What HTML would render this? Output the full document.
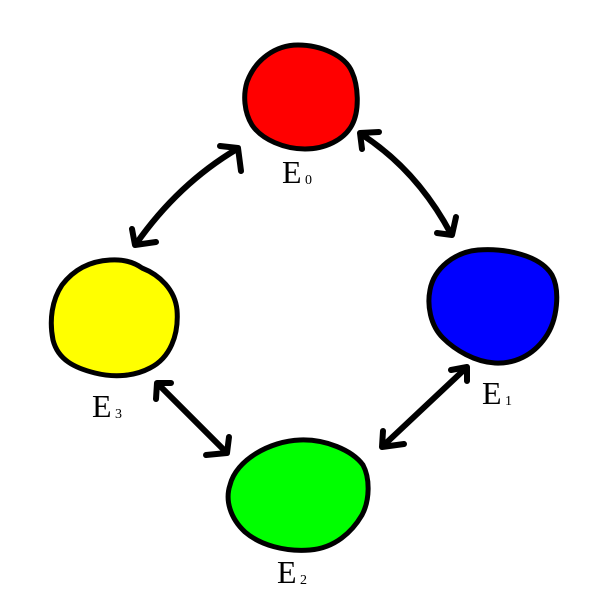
<!DOCTYPE html>
<html>
<head>
<meta charset="utf-8">
<style>
html,body{margin:0;padding:0;background:#fff;}
svg{display:block;}
</style>
</head>
<body>
<svg width="600" height="600" viewBox="0 0 600 600" xmlns="http://www.w3.org/2000/svg">
<rect width="600" height="600" fill="#fff"/>
<g stroke="#000" stroke-width="5" stroke-linejoin="round">
<path d="M298,45 C320,45 345,55 352,72 C358,85 360,110 352,125 C344,140 325,149 305,149 C285,149 262,140 252,125 C244,112 243,95 247,82 C255,60 275,45 298,45 Z" fill="#ff0000"/>
<path d="M478,250 C505,248 540,255 552,275 C560,290 558,320 545,338 C533,355 515,364 495,363 C475,362 455,350 443,338 C430,325 427,305 430,290 C434,268 455,252 478,250 Z" fill="#0000ff"/>
<path d="M110,260 C125,259 135,263 142,268 C160,275 175,290 177,310 C179,335 170,358 150,368 C135,376 115,378 95,373 C75,368 58,360 53,340 C49,320 52,300 62,285 C75,268 92,261 110,260 Z" fill="#ffff00"/>
<path d="M300,440 C325,439 352,450 363,465 C370,478 370,500 362,515 C352,532 335,548 310,550 C285,552 260,545 245,532 C230,518 225,500 230,485 C236,460 270,441 300,440 Z" fill="#00ff00"/>
</g>
<g stroke="#000" stroke-width="6" fill="none" stroke-linecap="round" stroke-linejoin="round">
<path d="M237,149 Q178,184 136,244"/>
<path d="M220,146 L238,148 L241,171"/>
<path d="M132,229 L135,245 L156,242"/>
<path d="M361,134 Q417,170 451,234"/>
<path d="M379,132 L360,133 L362,149"/>
<path d="M456,217 L452,235 L437,233"/>
<path d="M158,384 L226,452"/>
<path d="M171,383 L157,383 L156,399"/>
<path d="M229,437 L227,453 L206,455"/>
<path d="M466,368 L383,446"/>
<path d="M451,370 L467,367 L467,381"/>
<path d="M383,431 L382,447 L404,444"/>
</g>
<g font-family="'Liberation Serif', serif" fill="#000">
<text x="282" y="183" font-size="32">E</text>
<text x="305" y="184" font-size="14">0</text>
<text x="482" y="404" font-size="32">E</text>
<text x="505" y="405" font-size="14">1</text>
<text x="92" y="417" font-size="32">E</text>
<text x="115" y="418" font-size="14">3</text>
<text x="277" y="583" font-size="32">E</text>
<text x="300" y="584" font-size="14">2</text>
</g>
</svg>
</body>
</html>
